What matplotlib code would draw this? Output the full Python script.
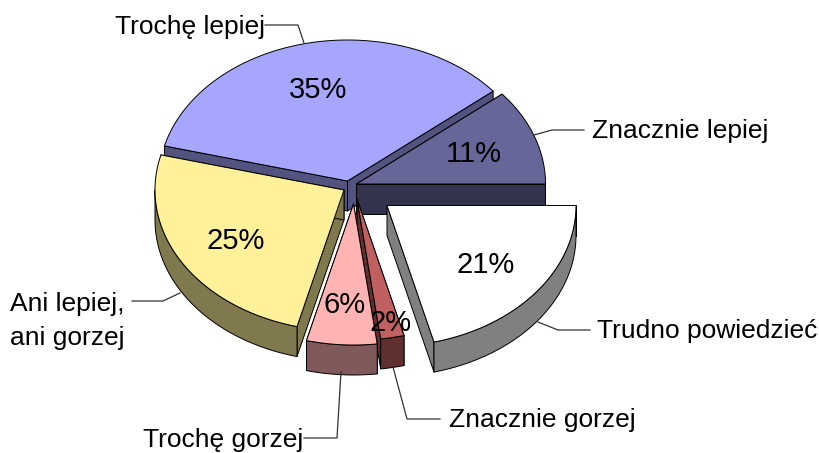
import numpy as np
import matplotlib
matplotlib.use("Agg")
import matplotlib.pyplot as plt

# data
categories = ["Znacznie lepiej", "Trudno powiedzieć", "Znacznie gorzej",
              "Trochę gorzej", "Ani lepiej,\nani gorzej", "Trochę lepiej"]
values = [11, 21, 2, 6, 25, 35]

# styles
top_colors = ["#666699", "#FFFFFF", "#C06060", "#FFB3B3", "#FFF199", "#A6A6FF"]
side_colors = ["#33334D", "#808080", "#603030", "#805A5A", "#80794D", "#53537F"]
explode_x = [6.5, 37, 7, 3.5, -6, -2.5]
explode_y = [-2, 19.5, 13, 18, 4, -5]
draw_order = [5, 0, 4, 1, 2, 3]
pct_pos = [(474, 154), (486, 265), (391, 323), (345, 305), (236, 241), (318, 90)]
label_pos = [(592, 131), (597, 331), (449, 420), (143, 440), (10, 321), (115, 27)]
leaders = [
    [(534, 135), (552, 130), (584, 130)],
    [(538, 322), (558, 330), (590, 330)],
    [(393, 367), (407, 419), (440, 419)],
    [(341, 372), (337, 438), (304, 438)],
    [(180, 293), (163, 301), (132, 301)],
    [(304, 43), (298, 25), (265, 25)],
]
CX, CY, RX, RY, DEPTH = 350, 186, 189, 141, 30
START = 39.6

fig = plt.figure(figsize=(8.2, 4.53), dpi=100)
ax = fig.add_axes([0, 0, 1, 1])
ax.set_xlim(0, 820)
ax.set_ylim(453, 0)
ax.axis("off")

plt.rcParams["font.family"] = ["Liberation Sans", "DejaVu Sans"]
FS = 19
FS_PCT = 21

fractions = np.array(values) / sum(values)
ends = START - np.cumsum(fractions) * 360
starts = np.r_[START, ends[:-1]]


def pt(x0, y0, deg):
    r = np.radians(deg)
    return x0 + RX * np.cos(r), y0 - RY * np.sin(r)


for z, i in enumerate(draw_order):
    a0, a1 = starts[i], ends[i]
    ox = CX + explode_x[i]
    oy = CY + explode_y[i]
    kw = dict(edgecolor="black", linewidth=0.7, joinstyle="round")
    base_z = z * 3
    # cut faces
    for a in (a0, a1):
        px, py = pt(ox, oy, a)
        ax.fill([ox, px, px, ox], [oy, py, py + DEPTH, oy + DEPTH],
                facecolor=side_colors[i], zorder=base_z, **kw)
    # outer wall (only the front half)
    lo, hi = max(a1, -180), min(a0, 0)
    if hi > lo:
        t = np.linspace(lo, hi, 60)
        wx, wy = pt(ox, oy, t)
        ax.fill(np.r_[wx, wx[::-1]], np.r_[wy, wy[::-1] + DEPTH],
                facecolor=side_colors[i], zorder=base_z + 1, **kw)
    # top
    t = np.linspace(a0, a1, 120)
    tx, ty = pt(ox, oy, t)
    ax.fill(np.r_[ox, tx], np.r_[oy, ty], facecolor=top_colors[i],
            zorder=base_z + 2, **kw)

for i, v in enumerate(values):
    ax.text(*pct_pos[i], f"{v}%", fontsize=FS_PCT, ha="center", va="center",
            color="black", zorder=50)
    ax.text(*label_pos[i], categories[i], fontsize=FS, ha="left", va="center",
            color="black", zorder=50, linespacing=1.55)
    xs, ys = zip(*leaders[i])
    ax.plot(xs, ys, color="#333333", lw=0.9, zorder=40)

fig.savefig("out.png", dpi=100, facecolor="white")
